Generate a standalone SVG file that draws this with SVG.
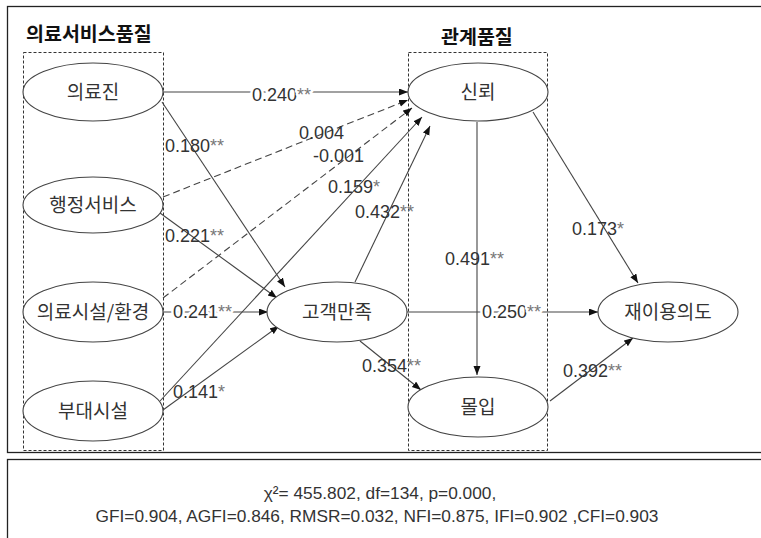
<svg xmlns="http://www.w3.org/2000/svg" width="761" height="538" viewBox="0 0 761 538">
<style>
.frame{fill:none;stroke:#222;stroke-width:1.3}
.group{fill:none;stroke:#333;stroke-width:1;stroke-dasharray:3 2}
.node{fill:#fff;stroke:#444;stroke-width:1.1}
.ntxt{font-family:"Noto Sans CJK KR","Noto Sans",sans-serif;font-size:19px;fill:#333;text-anchor:middle}
.title{font-family:"Noto Sans CJK KR","Noto Sans",sans-serif;font-size:19.5px;font-weight:bold;fill:#111}
.lbl{font-family:"Liberation Sans","Noto Sans CJK KR",sans-serif;font-size:18px;fill:#333}
.halo{stroke:#fff;stroke-width:5;paint-order:stroke;stroke-linejoin:round}
.st{fill:#777}
.edge{fill:none;stroke:#444;stroke-width:1.1;marker-end:url(#ah)}
.dash{stroke-dasharray:7 4}
.fit{font-family:"Liberation Sans","Noto Sans",sans-serif;font-size:17.3px;fill:#333;text-anchor:middle}
</style>
<defs>
<marker id="ah" markerUnits="userSpaceOnUse" markerWidth="10" markerHeight="8" refX="9" refY="3.5" orient="auto">
<path d="M0,0 L9,3.5 L0,7 z" fill="#111"/>
</marker>
</defs>
<rect width="761" height="538" fill="#fff"/>
<rect class="frame" x="7.5" y="6.5" width="770" height="446"/>
<rect class="frame" x="7.5" y="459.5" width="770" height="90"/>
<g id="titles">
<text class="title" x="26" y="41">의료서비스품질</text>
<text class="title" x="441" y="44">관계품질</text>
</g>
<rect class="group" x="23.5" y="52.5" width="140" height="398"/>
<rect class="group" x="408.5" y="52.5" width="139" height="398"/>
<g id="connectors">
<line class="edge" x1="163" y1="92" x2="408" y2="92"/>
<line class="edge dash" x1="163" y1="197" x2="408" y2="100"/>
<line class="edge dash" x1="163" y1="298" x2="412" y2="108"/>
<line class="edge" x1="160" y1="401" x2="422" y2="117"/>
<line class="edge" x1="355" y1="282" x2="430" y2="126"/>
<line class="edge" x1="162" y1="102" x2="285" y2="287"/>
<line class="edge" x1="160" y1="213" x2="277" y2="298"/>
<line class="edge" x1="163" y1="312" x2="268" y2="312"/>
<line class="edge" x1="163" y1="410" x2="279" y2="326"/>
<line class="edge" x1="407" y1="312" x2="598" y2="312"/>
<line class="edge" x1="360" y1="341" x2="421" y2="390"/>
<line class="edge" x1="477" y1="122" x2="477" y2="375"/>
<line class="edge" x1="533" y1="112" x2="638" y2="283"/>
<line class="edge" x1="550" y1="401" x2="633" y2="338"/>
</g>
<g id="n1"><ellipse class="node" cx="93" cy="92" rx="70" ry="29"/><text class="ntxt" x="93" y="99">의료진</text></g>
<g id="n2"><ellipse class="node" cx="93" cy="205" rx="70" ry="28"/><text class="ntxt" x="93" y="212">행정서비스</text></g>
<g id="n3"><ellipse class="node" cx="93" cy="312" rx="70" ry="30"/><text class="ntxt" x="93" y="319">의료시설/환경</text></g>
<g id="n4"><ellipse class="node" cx="93" cy="411" rx="70" ry="30"/><text class="ntxt" x="93" y="418">부대시설</text></g>
<g id="n5"><ellipse class="node" cx="337" cy="312" rx="70" ry="30"/><text class="ntxt" x="337" y="319">고객만족</text></g>
<g id="n6"><ellipse class="node" cx="478" cy="92" rx="70" ry="29"/><text class="ntxt" x="478" y="99">신뢰</text></g>
<g id="n7"><ellipse class="node" cx="478" cy="407" rx="70" ry="30"/><text class="ntxt" x="478" y="414">몰입</text></g>
<g id="n8"><ellipse class="node" cx="668" cy="312" rx="70" ry="30"/><text class="ntxt" x="668" y="319">재이용의도</text></g>
<g id="labels">
<text class="lbl halo" x="252" y="101">0.240<tspan class="st">**</tspan></text>
<text class="lbl" x="165" y="152">0.180<tspan class="st">**</tspan></text>
<text class="lbl" x="299" y="139">0.004</text>
<text class="lbl" x="313" y="162">-0.001</text>
<text class="lbl" x="328" y="193">0.159<tspan class="st">*</tspan></text>
<text class="lbl" x="355" y="218">0.432<tspan class="st">**</tspan></text>
<text class="lbl" x="165" y="242">0.221<tspan class="st">**</tspan></text>
<text class="lbl halo" x="173" y="318">0.241<tspan class="st">**</tspan></text>
<text class="lbl" x="173" y="398">0.141<tspan class="st">*</tspan></text>
<text class="lbl" x="362" y="372">0.354<tspan class="st">**</tspan></text>
<text class="lbl" x="445" y="265">0.491<tspan class="st">**</tspan></text>
<text class="lbl halo" x="482" y="318">0.250<tspan class="st">**</tspan></text>
<text class="lbl" x="572" y="235">0.173<tspan class="st">*</tspan></text>
<text class="lbl" x="563" y="377">0.392<tspan class="st">**</tspan></text>
</g>
<g id="fit">
<text class="fit" x="380" y="499">χ²= 455.802, df=134, p=0.000,</text>
<text class="fit" x="377" y="522">GFI=0.904, AGFI=0.846, RMSR=0.032, NFI=0.875, IFI=0.902 ,CFI=0.903</text>
</g>
</svg>
